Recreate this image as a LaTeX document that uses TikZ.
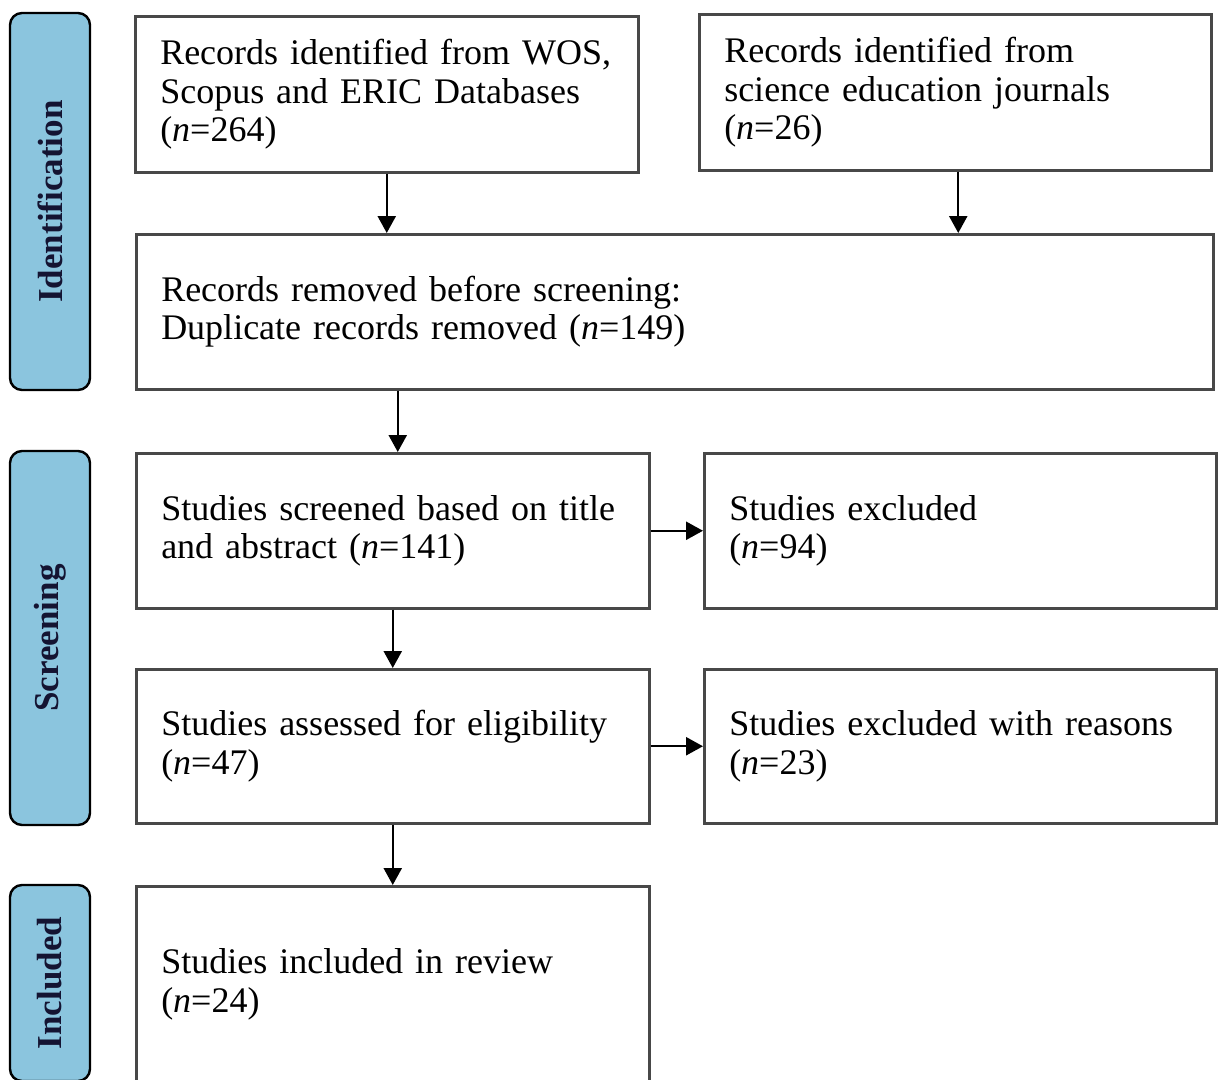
\documentclass[tikz,border=0pt]{standalone}
\usepackage{fontspec}
\setmainfont{Liberation Serif}
\usetikzlibrary{arrows.meta,calc}
\definecolor{labfill}{RGB}{139,197,222}
\definecolor{labtext}{RGB}{20,20,50}
\definecolor{boxline}{RGB}{72,72,72}
\begin{document}
\begin{tikzpicture}[x=1pt,y=-1pt,
  box/.style={draw=boxline, line width=2.5pt, anchor=north west, inner xsep=25pt, inner ysep=0pt, align=left, font=\fontsize{36}{38.5}\selectfont},
  phase/.style={draw=black, line width=2.4pt, fill=labfill, rounded corners=12pt, minimum height=80pt, inner sep=0pt, rotate=90, font=\fontsize{35}{40}\selectfont\bfseries, text=labtext},
  arr/.style={line width=2.4pt, draw=black, -{Triangle[length=17pt,width=18pt]}}]
\useasboundingbox[fill=white] (0,0) rectangle (1218,1079);

\node[phase, minimum width=377pt] (P1) at (50,201.5) {Identification};
\node[phase, minimum width=374pt] (P2) at (50,638) {Screening};
\node[phase, minimum width=196pt] (P3) at (50,983) {Included};

\node[box, text width=453pt, minimum width=503pt, minimum height=156pt] (A) at (134,15) {Records identified from WOS,\\ Scopus and ERIC Databases\\ (\textit{n}=264)};
\node[box, text width=462pt, minimum width=512pt, minimum height=156pt] (B) at (698,13) {Records identified from\\ science education journals\\ (\textit{n}=26)};
\node[box, text width=1027pt, minimum width=1077pt, minimum height=155pt] (C) at (135,233) {Records removed before screening:\\ Duplicate records removed (\textit{n}=149)};
\node[box, text width=463pt, minimum width=513pt, minimum height=155pt] (D) at (135,452) {Studies screened based on title\\ and abstract (\textit{n}=141)};
\node[box, text width=462pt, minimum width=512pt, minimum height=155pt] (E) at (703,452) {Studies excluded\\ (\textit{n}=94)};
\node[box, text width=463pt, minimum width=513pt, minimum height=154pt] (F) at (135,668) {Studies assessed for eligibility\\ (\textit{n}=47)};
\node[box, text width=462pt, minimum width=512pt, minimum height=154pt] (G) at (703,668) {Studies excluded with reasons\\ (\textit{n}=23)};
\node[box, text width=463pt, minimum width=513pt, minimum height=196pt] (H) at (135,885) {Studies included in review\\ (\textit{n}=24)};

\draw[arr] (A.south) -- (A.south |- C.north);
\draw[arr] ([xshift=3pt]B.south) -- ([xshift=3pt]B.south |- C.north);
\draw[arr] ([xshift=5pt]D.north |- C.south) -- ([xshift=5pt]D.north);
\draw[arr] (D.east) -- (E.west);
\draw[arr] (D.south) -- (F.north);
\draw[arr] (F.east) -- (G.west);
\draw[arr] (F.south) -- (H.north);
\end{tikzpicture}
\end{document}
